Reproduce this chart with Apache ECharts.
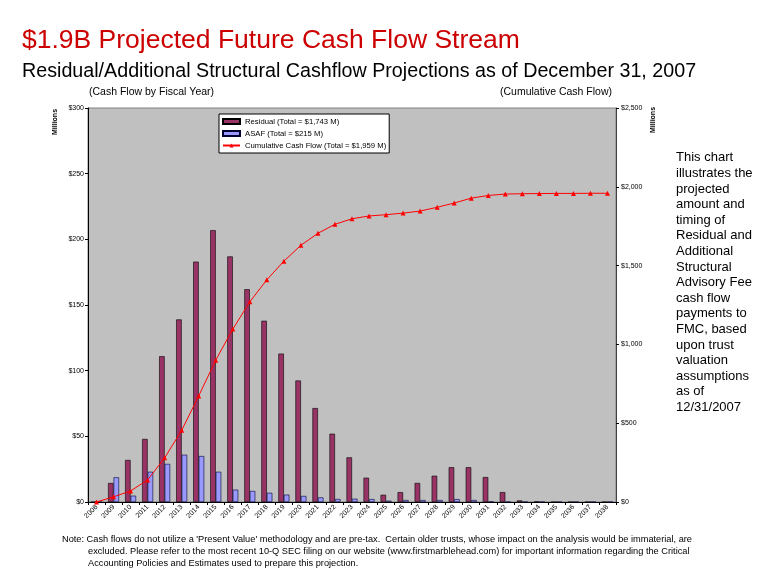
<!DOCTYPE html>
<html>
<head>
<meta charset="utf-8">
<script src="https://cdn.jsdelivr.net/npm/echarts@6/dist/echarts.min.js"></script>
<style>
html,body{margin:0;padding:0;background:#fff;}
#chart{width:780px;height:587px;}
</style>
</head>
<body>
<div id="chart"></div>
<script>
// ---- data ----
var years = ['2008','2009','2010','2011','2012','2013','2014','2015','2016','2017','2018','2019','2020','2021','2022','2023','2024','2025','2026','2027','2028','2029','2030','2031','2032','2033','2034','2035','2036','2037','2038'];
var residual = [0, 14.5, 32, 48, 111, 139, 183, 207, 187, 162, 138, 113, 92.5, 71.5, 52, 34, 18.5, 5.5, 7.5, 14.5, 20, 26.5, 26.5, 19, 7.5, 1.2, 0.4, 0, 0, 0, 0];
var asaf = [0, 18.8, 4.8, 23, 29, 36, 35, 23, 9.4, 8.4, 7, 5.6, 4.6, 3.5, 2.3, 2.5, 2.2, 1, 1.5, 1.5, 1.5, 2.2, 1.5, 0.3, 0, 0, 0, 0, 0, 0, 0];
var cumulative = [0, 33, 70, 140, 280, 455, 673, 900, 1097, 1270, 1410, 1528, 1629, 1705, 1762, 1797, 1815, 1823, 1833, 1846, 1870, 1897, 1928, 1945, 1954, 1956, 1957, 1958, 1958, 1959, 1959];
var leftTicks = ['$0', '$50', '$100', '$150', '$200', '$250', '$300'];
var rightTicks = ['$0', '$500', '$1,000', '$1,500', '$2,000', '$2,500'];
var seriesNames = ['Residual (Total = $1,743 M)', 'ASAF (Total = $215 M)', 'Cumulative Cash Flow (Total = $1,959 M)'];
var titleText = '$1.9B Projected Future Cash Flow Stream';
var subtitleText = 'Residual/Additional Structural Cashflow Projections as of December 31, 2007';
var sideText = ['This chart','illustrates the','projected','amount and','timing of','Residual and','Additional','Structural','Advisory Fee','cash flow','payments to','FMC, based','upon trust','valuation','assumptions','as of','12/31/2007'];
var noteLines = [
  "Note: Cash flows do not utilize a 'Present Value' methodology and are pre-tax.  Certain older trusts, whose impact on the analysis would be immaterial, are",
  "excluded. Please refer to the most recent 10-Q SEC filing on our website (www.firstmarblehead.com) for important information regarding the Critical",
  "Accounting Policies and Estimates used to prepare this projection."
];

var FF = '"Liberation Sans", Arial, sans-serif';
var mctx = document.createElement('canvas').getContext('2d');
function fit(text, font, target) { mctx.font = font; return target / mctx.measureText(text).width; }

var noteFont = '9px ' + FF;
var noteScale = fit(noteLines[0], noteFont, 630);

var chart = echarts.init(document.getElementById('chart'), null, {renderer: 'canvas'});
var option = {
  backgroundColor: '#ffffff',
  animation: false,
  textStyle: {fontFamily: FF},
  grid: {left: 88, right: 164, top: 108, bottom: 85, show: true, backgroundColor: '#C0C0C0', borderColor: '#808080', borderWidth: 1},
  legend: {
    orient: 'vertical', left: 219, top: 114,
    backgroundColor: '#ffffff', borderColor: '#000000', borderWidth: 1,
    padding: [3, 3, 3, 3], itemGap: 3, itemWidth: 17, itemHeight: 5,
    textStyle: {fontSize: 7.7, lineHeight: 9, color: '#000', fontFamily: FF},
    data: [
      {name: seriesNames[0], icon: 'rect'},
      {name: seriesNames[1], icon: 'rect'},
      {name: seriesNames[2]}
    ]
  },
  xAxis: {
    type: 'category', data: years, boundaryGap: true,
    axisLine: {lineStyle: {color: '#000', width: 1}},
    axisTick: {show: true, length: 3, lineStyle: {color: '#000'}},
    axisLabel: {interval: 0, rotate: 45, fontSize: 7, color: '#000', margin: 4, fontFamily: FF},
    splitLine: {show: false}
  },
  yAxis: [
    {type: 'value', min: 0, max: 300, interval: 50, position: 'left',
     axisLine: {show: true, lineStyle: {color: '#000'}},
     axisTick: {show: true, length: 3, lineStyle: {color: '#000'}},
     axisLabel: {fontSize: 7, color: '#000', margin: 4, fontFamily: FF, formatter: function (v) { return leftTicks[Math.round(v / 50)]; }},
     splitLine: {show: false}},
    {type: 'value', min: 0, max: 2500, interval: 500, position: 'right',
     axisLine: {show: true, lineStyle: {color: '#404040'}},
     axisTick: {show: true, length: 3, lineStyle: {color: '#000'}},
     axisLabel: {fontSize: 7, color: '#000', margin: 5, fontFamily: FF, formatter: function (v) { return rightTicks[Math.round(v / 500)]; }},
     splitLine: {show: false}}
  ],
  series: [
    {name: seriesNames[0], type: 'bar', data: residual, barWidth: 5.5, barGap: '0%',
     itemStyle: {color: '#993366', borderColor: '#000000', borderWidth: 0.6}},
    {name: seriesNames[1], type: 'bar', data: asaf, barWidth: 5.5, barGap: '0%',
     itemStyle: {color: '#9999FF', borderColor: '#000033', borderWidth: 0.6}},
    {name: seriesNames[2], type: 'line', yAxisIndex: 1, data: cumulative,
     symbol: 'triangle', symbolSize: 5, showSymbol: true,
     lineStyle: {color: '#FF0000', width: 1}, itemStyle: {color: '#FF0000'}}
  ],
  graphic: [
    {type: 'text', x: 22, y: 41, style: {text: titleText, font: '26.5px ' + FF, fill: '#CC0000', textAlign: 'left', textVerticalAlign: 'middle'}},
    {type: 'text', x: 22, y: 72, style: {text: subtitleText, font: '19.7px ' + FF, fill: '#000000', textAlign: 'left', textVerticalAlign: 'middle'}},
    {type: 'text', x: 89, y: 92, style: {text: '(Cash Flow by Fiscal Year)', font: '10.5px ' + FF, fill: '#000', textAlign: 'left', textVerticalAlign: 'middle'}},
    {type: 'text', x: 612, y: 92, style: {text: '(Cumulative Cash Flow)', font: '10.5px ' + FF, fill: '#000', textAlign: 'right', textVerticalAlign: 'middle'}},
    {type: 'text', x: 55, y: 122, rotation: Math.PI / 2, style: {text: 'Millions', font: 'bold 7px ' + FF, fill: '#000', textAlign: 'center', textVerticalAlign: 'middle'}},
    {type: 'text', x: 653, y: 120, rotation: Math.PI / 2, style: {text: 'Millions', font: 'bold 7px ' + FF, fill: '#000', textAlign: 'center', textVerticalAlign: 'middle'}},
    {type: 'text', x: 676, y: 150, style: {text: sideText.join('\n'), font: '13px ' + FF, lineHeight: 15.6, fill: '#000', textAlign: 'left', textVerticalAlign: 'top'}},
    {type: 'text', x: 62, y: 540, scaleX: noteScale, style: {text: noteLines[0], font: noteFont, fill: '#000', textAlign: 'left', textVerticalAlign: 'middle'}},
    {type: 'text', x: 88, y: 552, scaleX: noteScale, style: {text: noteLines[1], font: noteFont, fill: '#000', textAlign: 'left', textVerticalAlign: 'middle'}},
    {type: 'text', x: 88, y: 564, scaleX: noteScale, style: {text: noteLines[2], font: noteFont, fill: '#000', textAlign: 'left', textVerticalAlign: 'middle'}}
  ]
};
chart.setOption(option);
</script>
</body>
</html>
